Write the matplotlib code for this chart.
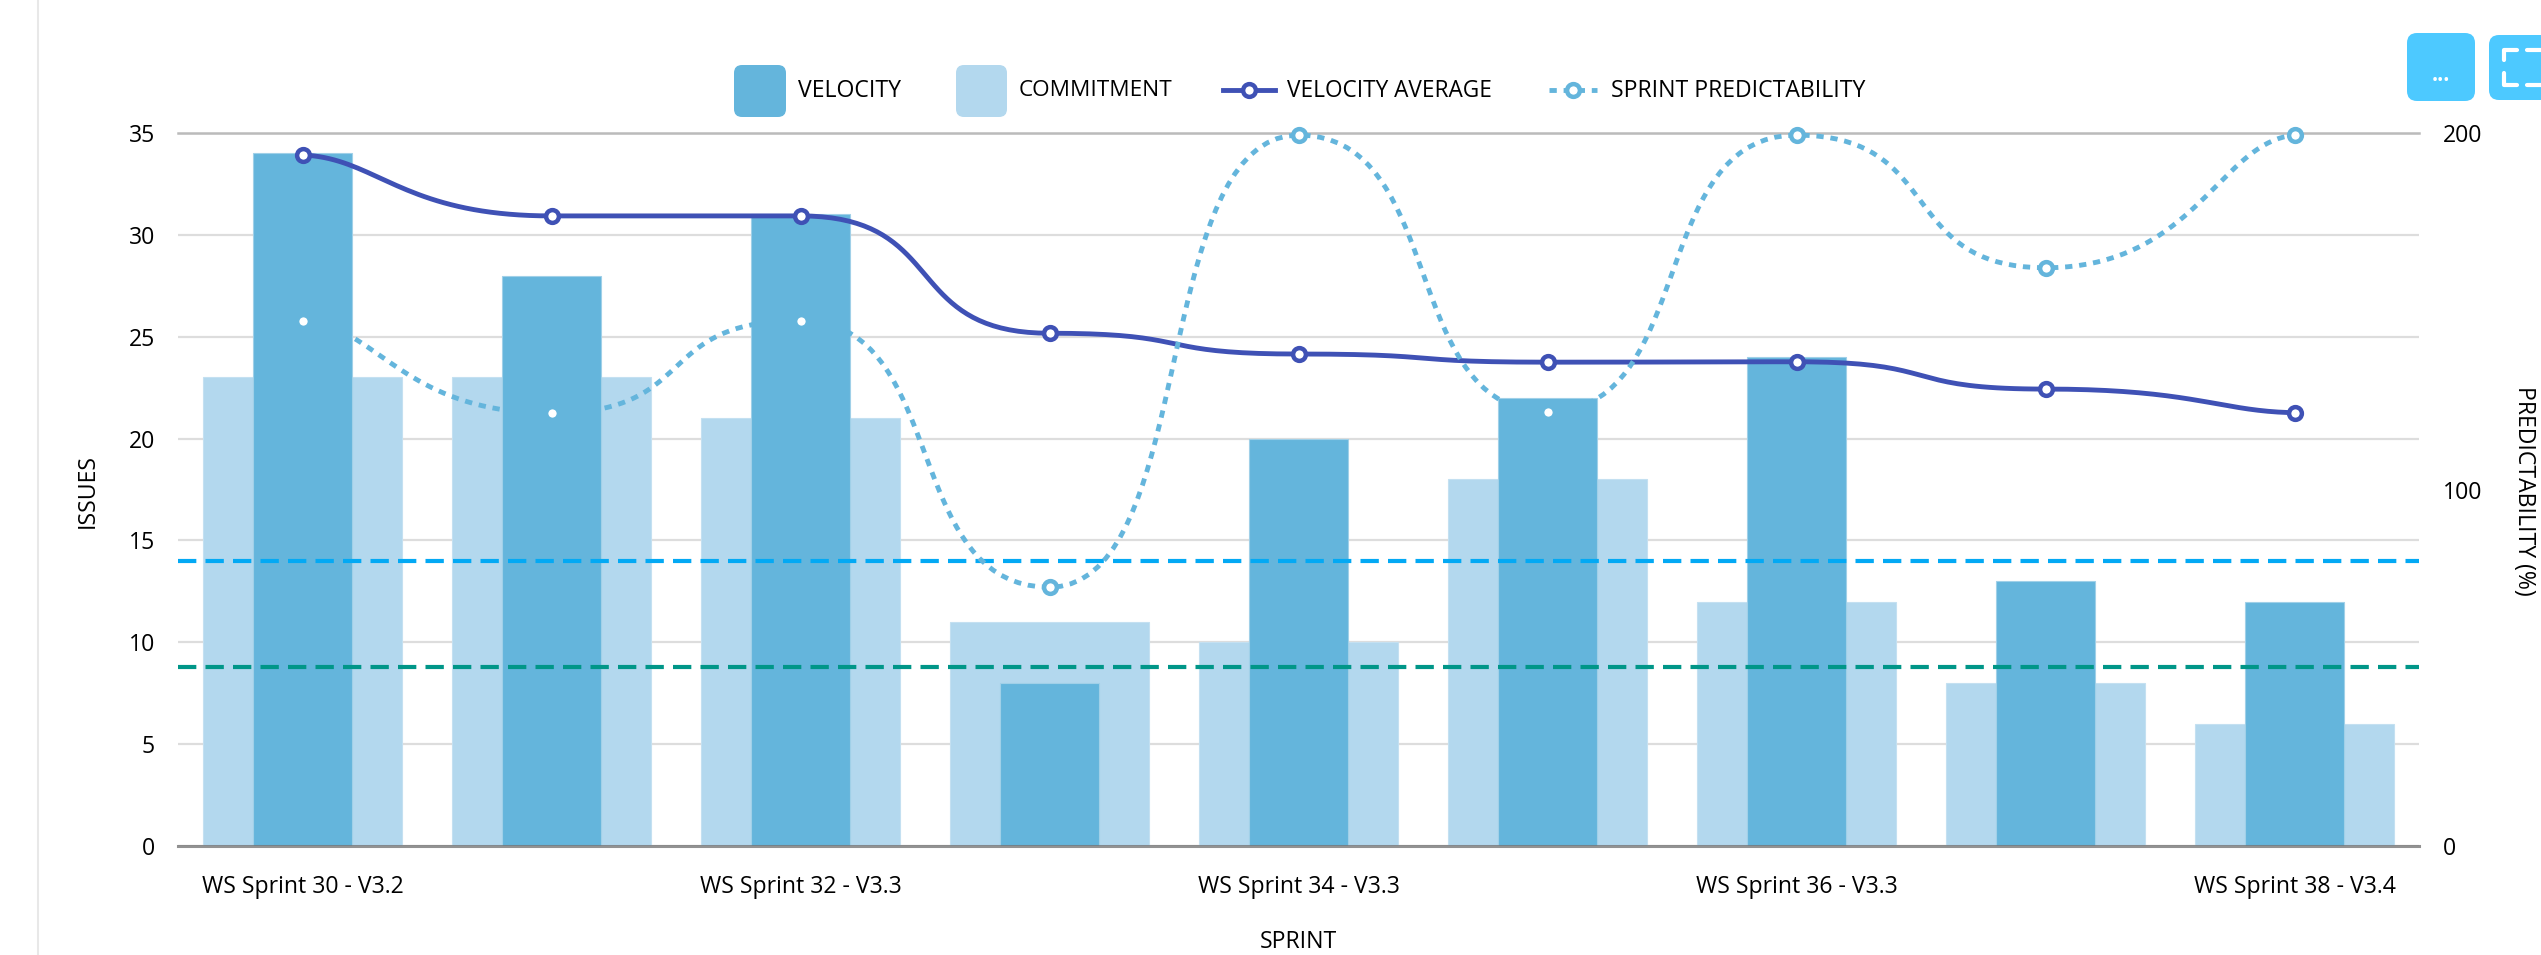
import matplotlib
matplotlib.use("Agg")
import matplotlib.pyplot as plt
import matplotlib.patches as pch
import numpy as np

sprints = ["WS Sprint 30 - V3.2", "WS Sprint 31 - V3.2", "WS Sprint 32 - V3.3", "WS Sprint 33 - V3.3",
           "WS Sprint 34 - V3.3", "WS Sprint 35 - V3.3", "WS Sprint 36 - V3.3", "WS Sprint 37 - V3.4",
           "WS Sprint 38 - V3.4"]
velocity = [34, 28, 31, 8, 20, 22, 24, 13, 12]
commitment = [23, 23, 21, 11, 10, 18, 12, 8, 6]
velocity_avg = [33.92, 30.93, 30.93, 25.17, 24.15, 23.75, 23.77, 22.43, 21.27]
predictability = [147.4, 121.4, 147.4, 72.6, 199.4, 121.8, 199.4, 162.2, 199.4]
ref_blue = 14
ref_teal = 8.8

W, H = 2541, 955
DARK = "#64b5dc"
LIGHT = "#b3d8ee"
NAVY = "#3f51b5"
FONT = "Open Sans"
FS = 16.6
DOTS = (0, (1.5, 1.4))
DASHES = (0, (4.4, 2.2))

plt.rcParams['font.family'] = [FONT, 'DejaVu Sans']


def smooth(y, n=40):
    # bezier between neighbours, flat at inner points, sloped at the two ends
    xs, ys = [], []
    t = np.linspace(0, 1, n)
    last = len(y) - 2
    for i in range(last + 1):
        ax1, ay1 = (0.3, 0.05) if i == 0 else (0.6, 0)
        ax2, ay2 = (0.7, 0.95) if i == last else (0.4, 1)
        xs.extend(i + 3*(1-t)**2*t*ax1 + 3*(1-t)*t**2*ax2 + t**3)
        ys.extend(y[i] + (y[i+1] - y[i]) * (3*(1-t)**2*t*ay1 + 3*(1-t)*t**2*ay2 + t**3))
    return xs, ys


fig = plt.figure(figsize=(W / 100, H / 100), dpi=100)
ax = fig.add_axes([178 / W, 1 - 846 / H, (2419 - 178) / W, (846 - 133) / H])
x = np.arange(len(sprints))

ax.set_axisbelow(True)
ax.grid(axis="y", color="#dddddd", lw=1.6)
ax.bar(x, commitment, 0.8, color=LIGHT, ec="#c4e0f1", lw=0.8, zorder=2)
ax.bar(x, velocity, 0.4, color=DARK, ec="#a0d0e8", lw=0.8, zorder=3)
ax.axhline(35, color="#bbbbbb", lw=1.8, zorder=1, clip_on=False)
ax.axhline(0, color="#777777", lw=2.2, alpha=0.8, zorder=4, clip_on=False)
ax.axhline(ref_blue, color="#03a9f4", lw=3, ls=DASHES, zorder=6)
ax.axhline(ref_teal, color="#009688", lw=3, ls=DASHES, zorder=6)

vx, vy = smooth(velocity_avg)
ax.plot(vx, vy, color=NAVY, lw=3.5, zorder=7, clip_on=False)
ax.plot(x, velocity_avg, "o", ms=9.2, mfc="white", mec=NAVY, mew=3.2, zorder=8, clip_on=False)

ax.set_xlim(-0.5, 8.5)
ax.set_ylim(0, 35)
ax.set_yticks(range(0, 36, 5))
ax.set_xticks(x[::2])
ax.set_xticklabels(sprints[::2], fontsize=FS)
ax.tick_params(axis="y", length=0, labelsize=FS, pad=16.5)
ax.tick_params(axis="x", length=0, pad=21)
for s in ax.spines.values():
    s.set_visible(False)

ax2 = ax.twinx()
ax2.set_ylim(0, 200)
ax2.set_yticks([0, 100, 200])
ax2.tick_params(axis="y", length=0, labelsize=FS, pad=17)
for s in ax2.spines.values():
    s.set_visible(False)

px, py = smooth(predictability)
ax2.plot(px, py, color=DARK, lw=3.5, ls=DOTS, zorder=5, clip_on=False)
ax2.plot(x, predictability, "o", ms=9.2, mfc="white", mec=DARK, mew=3.2, zorder=6, clip_on=False)

fig.text(88 / W, 1 - 491 / H, "ISSUES", rotation=90, ha="center", va="center", fontsize=FS)
fig.text(2524 / W, 1 - 491 / H, "PREDICTABILITY (%)", rotation=270, ha="center", va="center", fontsize=FS)
fig.text(1298 / W, 1 - 942 / H, "SPRINT", ha="center", va="center", fontsize=FS)

# legend and buttons, placed by hand in pixels
bg = fig.add_axes([0, 0, 1, 1], zorder=10)
bg.set_xlim(0, W)
bg.set_ylim(H, 0)
bg.axis("off")


def box(x0, y0, w, h, color, r):
    bg.add_patch(pch.FancyBboxPatch((x0, y0), w, h, boxstyle="round,pad=0,rounding_size=%d" % r,
                                    fc=color, ec="none"))


box(734, 65, 52, 52, DARK, 8)
bg.text(798, 91, "VELOCITY", va="center", fontsize=FS)
box(956, 65, 51, 52, LIGHT, 8)
bg.text(1019, 91, "COMMITMENT", va="center", fontsize=16.2)
bg.plot([1223, 1275], [90, 90], color=NAVY, lw=3.5)
bg.plot([1249], [90], "o", ms=9.2, mfc="white", mec=NAVY, mew=3.2)
bg.text(1287, 91, "VELOCITY AVERAGE", va="center", fontsize=16.3)
bg.plot([1549, 1597], [90, 90], color=DARK, lw=3.5, ls=DOTS)
bg.plot([1573], [90], "o", ms=9.2, mfc="white", mec=DARK, mew=3.2)
bg.text(1611, 91, "SPRINT PREDICTABILITY", va="center", fontsize=FS)

BTN = "#4dc9ff"
box(2407, 33, 68, 68, BTN, 10)
box(2489, 35, 80, 65, BTN, 10)
bg.text(2441, 81, "...", color="white", ha="center", va="baseline", fontsize=15, fontweight="bold")
for xs, ys in [([2504, 2504, 2517], [60, 50, 50]), ([2504, 2504, 2517], [73, 85, 85]),
               ([2541, 2527], [50, 50]), ([2541, 2527], [85, 85])]:
    bg.plot(xs, ys, color="white", lw=3, solid_capstyle="round", solid_joinstyle="round")

bg.plot([38, 38], [0, H], color="#e8e8e8", lw=1.5)

fig.savefig("out.png", dpi=100)
